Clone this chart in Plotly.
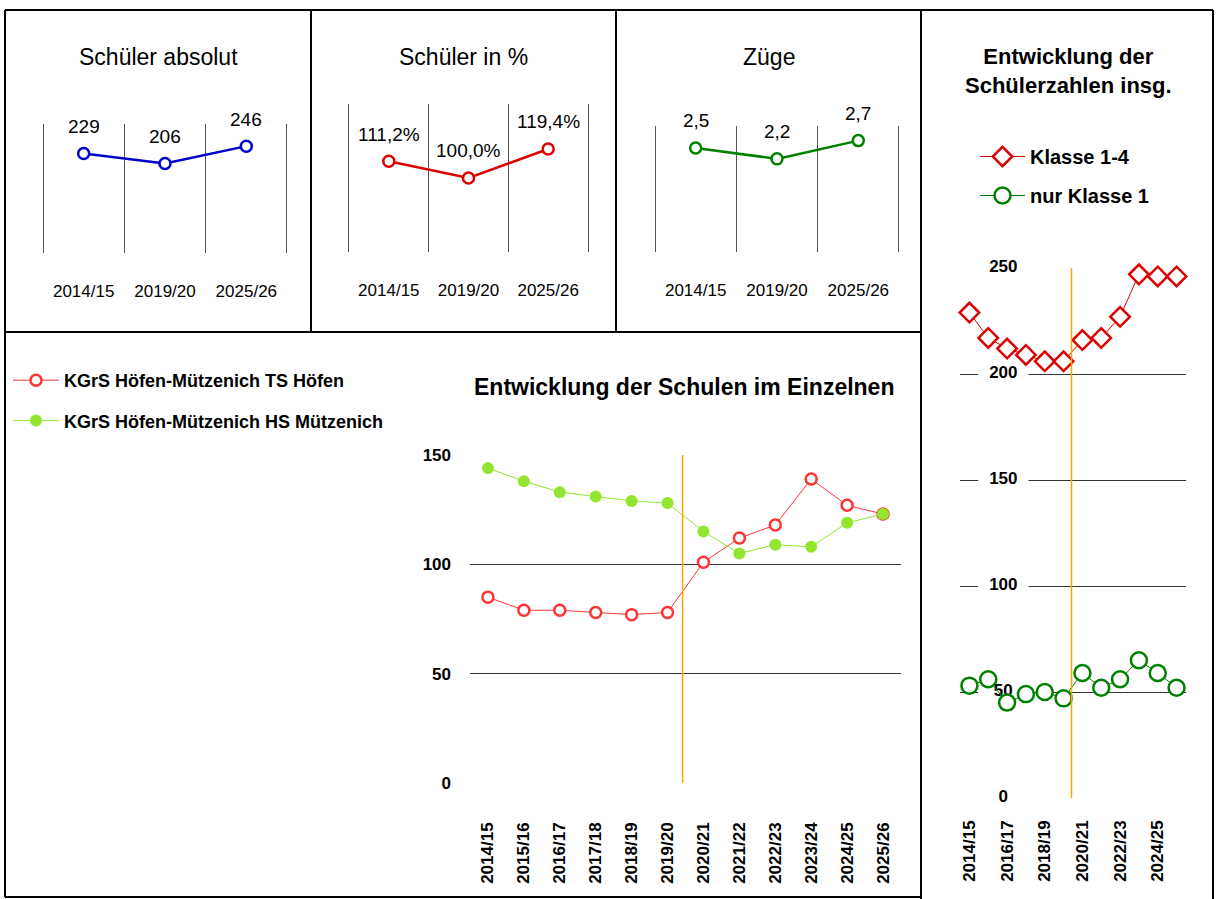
import plotly.graph_objects as go

# ---------------- data ----------------
years_top = ["2014/15", "2019/20", "2025/26"]
schueler_absolut = [229, 206, 246]
schueler_prozent = [111.2, 100.0, 119.4]
zuege = [2.5, 2.2, 2.7]

years = ["2014/15", "2015/16", "2016/17", "2017/18", "2018/19", "2019/20",
         "2020/21", "2021/22", "2022/23", "2023/24", "2024/25", "2025/26"]
ts_hoefen = [85, 79, 79, 78, 77, 78, 101, 112, 118, 139, 127, 123]
hs_muetzenich = [144, 138, 133, 131, 129, 128, 115, 105, 109, 108, 119, 123]
klasse_1_4 = [229, 217, 212, 209, 206, 206, 216, 217, 227, 247, 246, 246]
nur_klasse_1 = [53, 56, 45, 49, 50, 47, 59, 52, 56, 65, 59, 52]

ticks_einzeln = [0, 50, 100, 150]
ticks_gesamt = [0, 50, 100, 150, 200, 250]
split_position = 5.42  # orange divider between 2019/20 and 2020/21

FONT = "Liberation Sans, Arial, sans-serif"
W, H = 1216, 899


def px(x):
    return x / W


def py(y):
    return 1 - y / H


idx = list(range(len(years)))

fig = go.Figure()

# ---------------- top small panels ----------------
top_specs = [
    ("x", "y", schueler_absolut, "#0000CC", [str(v) for v in schueler_absolut]),
    ("x2", "y2", schueler_prozent, "#DD0000",
     [f"{v:.1f}".replace(".", ",") + "%" for v in schueler_prozent]),
    ("x3", "y3", zuege, "#008000", [f"{v:.1f}".replace(".", ",") for v in zuege]),
]
annotations = []
for xa, ya, vals, col, labs in top_specs:
    fig.add_trace(go.Scatter(
        x=years_top, y=vals, xaxis=xa, yaxis=ya, mode="lines+markers",
        line=dict(color=col, width=2.5),
        marker=dict(symbol="circle", size=11, color="white",
                    line=dict(color=col, width=2.5)),
        showlegend=False, cliponaxis=False, hoverinfo="skip"))
    for xv, yv, t in zip(years_top, vals, labs):
        annotations.append(dict(
            x=xv, y=yv, xref=xa, yref=ya, text=t, showarrow=False,
            yshift=27, font=dict(family=FONT, size=19, color="black")))

# ---------------- bottom chart ----------------
fig.add_trace(go.Scatter(
    x=idx, y=ts_hoefen, xaxis="x4", yaxis="y4", mode="lines+markers",
    name="KGrS Höfen-Mützenich TS Höfen", legend="legend", legendgroup="a",
    line=dict(color="#FF3333", width=1),
    marker=dict(symbol="circle", size=11, color="white",
                line=dict(color="#FF3333", width=2.5)),
    cliponaxis=False))
fig.add_trace(go.Scatter(
    x=idx, y=hs_muetzenich, xaxis="x4", yaxis="y4", mode="lines+markers",
    name="KGrS Höfen-Mützenich HS Mützenich", legend="legend", legendgroup="b",
    line=dict(color="#92E630", width=1),
    marker=dict(symbol="circle", size=12, color="#92E630"),
    cliponaxis=False))

# ---------------- right chart ----------------
label_x = [1.8] * len(ticks_gesamt)
fig.add_trace(go.Scatter(
    x=label_x, y=ticks_gesamt, xaxis="x5", yaxis="y5", mode="markers",
    marker=dict(symbol="line-ew", size=36, line=dict(color="white", width=16)),
    showlegend=False, hoverinfo="skip", cliponaxis=False))
fig.add_trace(go.Scatter(
    x=label_x, y=ticks_gesamt, xaxis="x5", yaxis="y5", mode="text",
    text=[str(t) for t in ticks_gesamt],
    textfont=dict(family=FONT, size=17, color="black", weight="bold"),
    showlegend=False, hoverinfo="skip", cliponaxis=False))
fig.add_trace(go.Scatter(
    x=idx, y=klasse_1_4, xaxis="x5", yaxis="y5", mode="lines+markers",
    name="Klasse 1-4", legend="legend2", legendgroup="c",
    line=dict(color="#DD0000", width=1),
    marker=dict(symbol="diamond", size=15, color="white",
                line=dict(color="#DD0000", width=2.5)),
    cliponaxis=False))
fig.add_trace(go.Scatter(
    x=idx, y=nur_klasse_1, xaxis="x5", yaxis="y5", mode="lines+markers",
    name="nur Klasse 1", legend="legend2", legendgroup="d",
    line=dict(color="#008000", width=1),
    marker=dict(symbol="circle", size=16, color="white",
                line=dict(color="#008000", width=2.5)),
    cliponaxis=False))

# ---------------- titles ----------------
for text, x, y, size, bold in [
    ("Schüler absolut", 158, 57, 23, False),
    ("Schüler in %", 463, 57, 23, False),
    ("Züge", 769, 57, 23, False),
    ("Entwicklung der Schulen im Einzelnen", 684, 387, 23, True),
    ("Entwicklung der<br>Schülerzahlen insg.", 1068, 71, 22, True),
]:
    annotations.append(dict(
        x=px(x), y=py(y), xref="paper", yref="paper", text=text,
        showarrow=False, xanchor="center", yanchor="middle",
        font=dict(family=FONT, size=size, color="black",
                  weight="bold" if bold else "normal")))

# ---------------- frames ----------------
shapes = []
frame_lines = [
    (5, 10, 1213, 10), (5, 10, 5, 897), (5, 897, 921, 897),
    (311, 10, 311, 332), (616, 10, 616, 332), (921, 10, 921, 899),
    (5, 332, 921, 332), (1213, 10, 1213, 899),
]
for x0, y0, x1, y1 in frame_lines:
    shapes.append(dict(type="line", xref="paper", yref="paper",
                       x0=px(x0), y0=py(y0), x1=px(x1), y1=py(y1),
                       line=dict(color="black", width=2)))
shapes.append(dict(type="line", xref="x4", yref="y4", x0=split_position,
                   x1=split_position, y0=0, y1=150,
                   line=dict(color="#FFA500", width=1.5)))
shapes.append(dict(type="line", xref="x5", yref="y5", x0=split_position,
                   x1=split_position, y0=0, y1=250,
                   line=dict(color="#FFA500", width=1.5)))

small_x = dict(type="category", tickson="boundaries", showgrid=True,
               gridcolor="#555", gridwidth=1, showline=False, zeroline=False,
               ticks="", ticklabelstandoff=26, range=[-0.52, 2.52],
               tickfont=dict(family=FONT, size=17, color="black"),
               fixedrange=True, automargin=False)
small_y = dict(visible=False, fixedrange=True, automargin=False)

fig.update_layout(
    template="none",
    width=W, height=H, margin=dict(l=0, r=0, t=0, b=0, pad=0),
    paper_bgcolor="white", plot_bgcolor="white",
    font=dict(family=FONT, color="black"),
    xaxis=dict(small_x, domain=[px(41.4), px(288.6)], anchor="y"),
    yaxis=dict(small_y, domain=[py(253), py(124)], range=[0, 297], anchor="x"),
    xaxis2=dict(small_x, domain=[px(347.4), px(589.6)], anchor="y2"),
    yaxis2=dict(small_y, domain=[py(252), py(104)], range=[50.5, 149.5], anchor="x2"),
    xaxis3=dict(small_x, domain=[px(653.4), px(900.6)], anchor="y3"),
    yaxis3=dict(small_y, domain=[py(252), py(126)], range=[-0.35, 3.1], anchor="x3"),
    xaxis4=dict(domain=[px(470), px(901)], anchor="y4", range=[-0.5, 11.5],
                tickvals=idx, ticktext=years, tickangle=-90, showgrid=False,
                zeroline=False, showline=False, ticks="", ticklabelstandoff=35,
                automargin=False,
                tickfont=dict(family=FONT, size=17, color="black", weight="bold")),
    yaxis4=dict(domain=[py(783), py(455)], anchor="x4", range=[0, 150],
                tickvals=ticks_einzeln, showgrid=True, gridcolor="#333",
                gridwidth=1, zeroline=False, showline=False, ticks="",
                ticklabelstandoff=18, automargin=False,
                tickfont=dict(family=FONT, size=17, color="black", weight="bold")),
    xaxis5=dict(domain=[px(960), px(1186)], anchor="y5", range=[-0.5, 11.5],
                tickvals=idx[::2], ticktext=years[::2], tickangle=-90,
                showgrid=False, zeroline=False, showline=False, ticks="",
                ticklabelstandoff=18, automargin=False,
                tickfont=dict(family=FONT, size=17, color="black", weight="bold")),
    yaxis5=dict(domain=[py(798), py(268)], anchor="x5", range=[0, 250],
                tickvals=ticks_gesamt, showgrid=True, gridcolor="#333",
                gridwidth=1, zeroline=False, showline=False, ticks="",
                showticklabels=False, automargin=False),
    legend=dict(x=px(8), y=py(362), xanchor="left", yanchor="top",
                bgcolor="rgba(0,0,0,0)", tracegroupgap=14, itemwidth=46,
                font=dict(family=FONT, size=18, color="black", weight="bold")),
    legend2=dict(x=px(975), y=py(137), xanchor="left", yanchor="top",
                 bgcolor="rgba(0,0,0,0)", tracegroupgap=10, itemwidth=45,
                 font=dict(family=FONT, size=20, color="black", weight="bold")),
    annotations=annotations,
    shapes=shapes,
)

fig.write_html(
    "out.html",
    config={"displayModeBar": False},
    post_script=(
        "var gd=document.getElementById('{plot_id}');"
        "gd.style.position='fixed';gd.style.top='0px';gd.style.left='0px';"
        "document.body.style.margin='0';document.body.style.overflow='hidden';"
    ),
)
